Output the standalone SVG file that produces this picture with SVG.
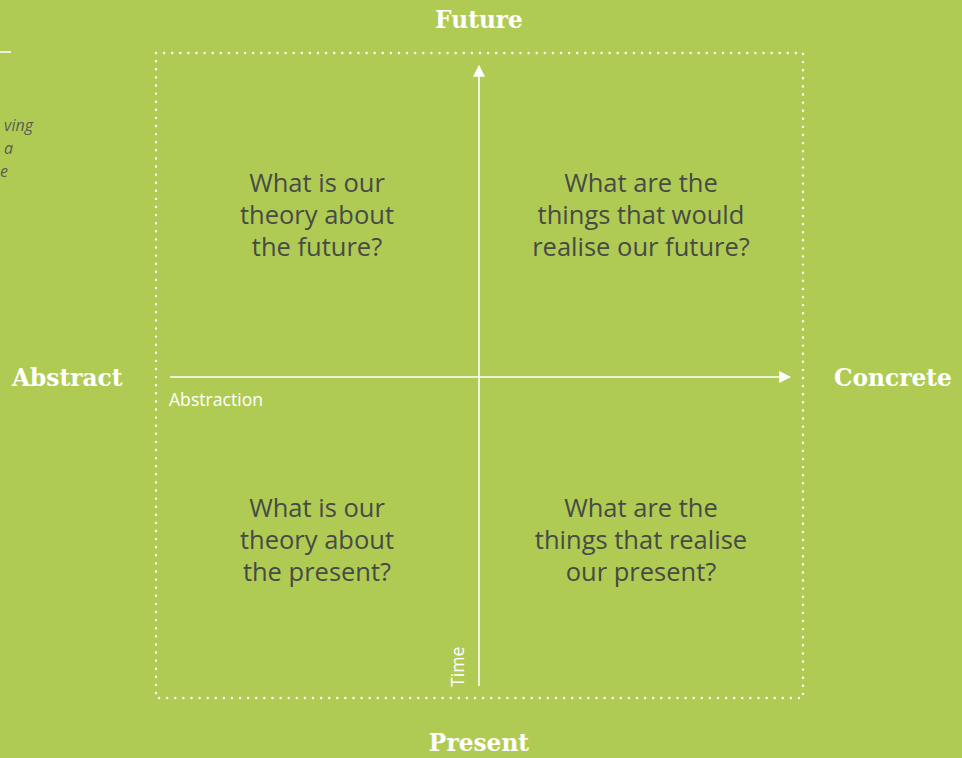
<svg xmlns="http://www.w3.org/2000/svg" width="962" height="758" viewBox="0 0 962 758">
<style>
.head{font-family:"DejaVu Serif",serif;font-weight:bold;font-size:23.3px;fill:#fff}
.q{font-family:"Open Sans","Noto Sans",sans-serif;font-size:25.5px;fill:#474a45;text-anchor:middle}
.lab{font-family:"Open Sans","Noto Sans",sans-serif;font-size:17.6px;fill:#fff}
.side{font-family:"Open Sans","Noto Sans",sans-serif;font-style:italic;font-size:16px;fill:#5a5f50}
.ax{stroke:#fff;stroke-width:1.6;fill:none}
</style>
<defs>
<marker id="ah" viewBox="0 0 10 10" refX="9" refY="5" markerWidth="12" markerHeight="12" markerUnits="userSpaceOnUse" orient="auto">
<path d="M0,0 L10,5 L0,10 z" fill="#fff"/>
</marker>
</defs>
<rect width="962" height="758" fill="#b0cb54"/>
<g id="sidebar">
<line x1="0" y1="52" x2="11" y2="52" stroke="#fff" stroke-width="1.5"/>
<text class="side" x="33" y="131" text-anchor="end">ving</text>
<text class="side" x="13" y="154" text-anchor="end">a</text>
<text class="side" x="8" y="177" text-anchor="end">e</text>
</g>
<g id="frame">
<rect x="156" y="53" width="647" height="645" fill="none" stroke="#fff" stroke-width="2.4" stroke-linecap="round" stroke-dasharray="0 8.1"/>
</g>
<g id="connectors">
<line class="ax" x1="479" y1="686" x2="479" y2="66" marker-end="url(#ah)"/>
<line class="ax" x1="170" y1="377" x2="790" y2="377" marker-end="url(#ah)"/>
</g>
<g id="future"><text class="head" x="479" y="28" text-anchor="middle">Future</text></g>
<g id="present"><text class="head" x="479" y="751" text-anchor="middle">Present</text></g>
<g id="abstract"><text class="head" x="12" y="386">Abstract</text></g>
<g id="concrete"><text class="head" x="834" y="386">Concrete</text></g>
<g id="abstraction"><text class="lab" x="169" y="406">Abstraction</text></g>
<g id="time"><text class="lab" transform="translate(464,687) rotate(-90)">Time</text></g>
<g id="q-tl"><text class="q" y="192"><tspan x="317">What is our</tspan><tspan x="317" dy="32">theory about</tspan><tspan x="317" dy="32">the future?</tspan></text></g>
<g id="q-tr"><text class="q" y="192"><tspan x="641">What are the</tspan><tspan x="641" dy="32">things that would</tspan><tspan x="641" dy="32">realise our future?</tspan></text></g>
<g id="q-bl"><text class="q" y="517"><tspan x="317">What is our</tspan><tspan x="317" dy="32">theory about</tspan><tspan x="317" dy="32">the present?</tspan></text></g>
<g id="q-br"><text class="q" y="517"><tspan x="641">What are the</tspan><tspan x="641" dy="32">things that realise</tspan><tspan x="641" dy="32">our present?</tspan></text></g>
</svg>
